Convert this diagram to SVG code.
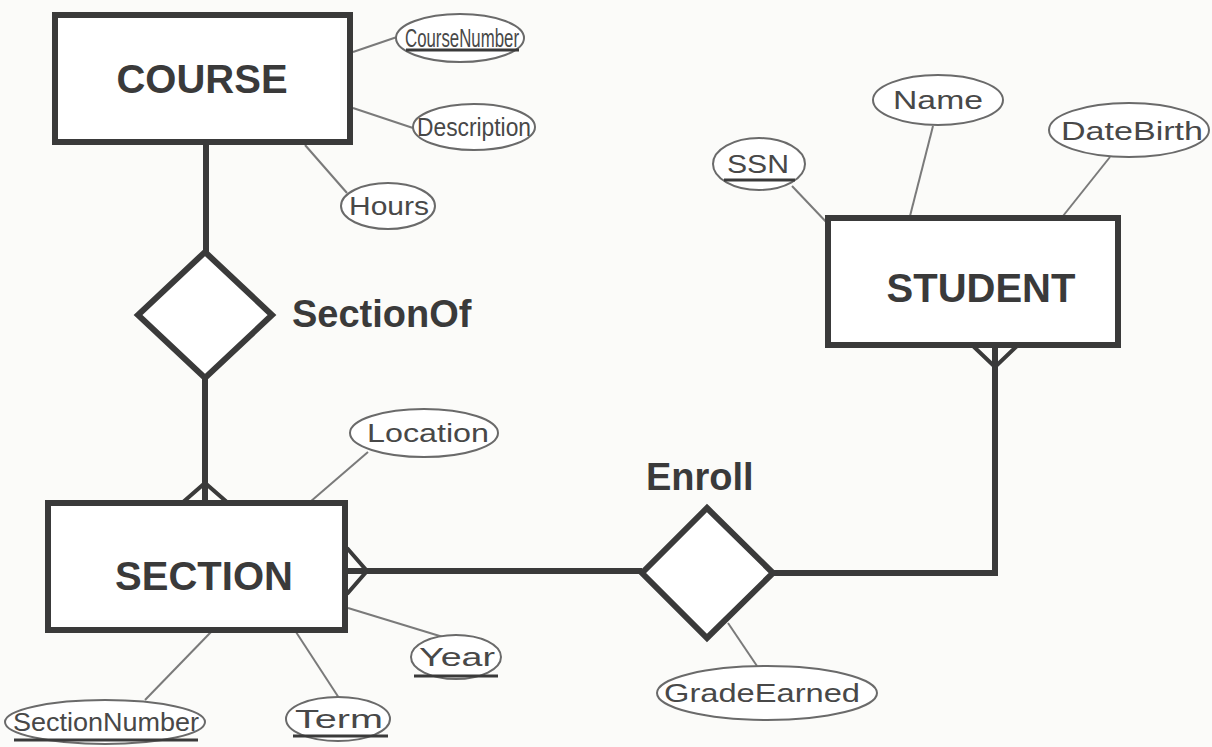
<svg xmlns="http://www.w3.org/2000/svg" width="1212" height="747" viewBox="0 0 1212 747">
  <style>
    .bg { fill: #fbfbf9; }
    .entity rect { fill: #ffffff; stroke: #3a3a3a; stroke-width: 6; }
    .entity text { font-family: "Liberation Sans", Arial, sans-serif; font-weight: bold; font-size: 40px; fill: #3a3a3a; text-anchor: middle; }
    .rel polygon { fill: #ffffff; stroke: #3a3a3a; stroke-width: 6; stroke-linejoin: miter; }
    .rel text { font-family: "Liberation Sans", Arial, sans-serif; font-weight: bold; font-size: 38px; fill: #3a3a3a; }
    .attr ellipse { fill: #ffffff; stroke: #6a6a6a; stroke-width: 2; }
    .attr text { font-family: "Liberation Sans", Arial, sans-serif; font-size: 26px; fill: #484848; text-anchor: middle; }
    .attr .key { stroke: #3a3a3a; stroke-width: 3; }
    .links .strong { fill: none; stroke: #3a3a3a; stroke-width: 6; stroke-linejoin: miter; }
    .links .foot { fill: none; stroke: #3a3a3a; stroke-width: 4; }
    .links .thin { fill: none; stroke: #7a7a7a; stroke-width: 2; }
  </style>

  <rect class="bg" x="0" y="0" width="1212" height="747"/>

  <!-- connectors: relationship lines, crow's feet, attribute links -->
  <g id="connectors" class="links">
    <line class="strong" x1="206" y1="142" x2="206" y2="252"/>
    <line class="strong" x1="205" y1="378" x2="205" y2="503"/>
    <line class="strong" x1="345" y1="571" x2="642" y2="571"/>
    <polyline class="strong" points="773,573 995,573 995,345"/>

    <!-- many-side crow's feet -->
    <polyline class="foot" points="182,503 205,483 228,503"/>
    <polyline class="foot" points="347,548 367,571 347,594"/>
    <polyline class="foot" points="972,345 995,367 1018,345"/>

    <!-- attribute links -->
    <line class="thin" x1="353" y1="52" x2="397" y2="37"/>
    <line class="thin" x1="353" y1="108" x2="413" y2="128"/>
    <line class="thin" x1="305" y1="145" x2="347" y2="193"/>
    <line class="thin" x1="792" y1="186" x2="830" y2="226"/>
    <line class="thin" x1="933" y1="126" x2="910" y2="216"/>
    <line class="thin" x1="1110" y1="157" x2="1063" y2="216"/>
    <line class="thin" x1="368" y1="452" x2="310" y2="502"/>
    <line class="thin" x1="348" y1="608" x2="443" y2="637"/>
    <line class="thin" x1="296" y1="632" x2="339" y2="698"/>
    <line class="thin" x1="211" y1="632" x2="145" y2="700"/>
    <line class="thin" x1="728" y1="623" x2="757" y2="666"/>
  </g>

  <!-- entities -->
  <g id="course" class="entity">
    <rect x="55" y="15" width="295" height="127"/>
    <text x="202" y="93">COURSE</text>
  </g>
  <g id="student" class="entity">
    <rect x="828" y="218" width="290" height="127"/>
    <text x="981" y="302">STUDENT</text>
  </g>
  <g id="section" class="entity">
    <rect x="48" y="503" width="297" height="127"/>
    <text x="204" y="590">SECTION</text>
  </g>

  <!-- relationships -->
  <g id="sectionof" class="rel">
    <polygon points="205,252 272,315 205,378 138,315"/>
    <text x="292" y="327">SectionOf</text>
  </g>
  <g id="enroll" class="rel">
    <polygon points="707,508 773,573 707,638 642,573"/>
    <text x="646" y="490">Enroll</text>
  </g>

  <!-- attributes -->
  <g id="attr-coursenumber" class="attr">
    <ellipse cx="460" cy="38" rx="64" ry="24"/>
    <text x="462" y="47" textLength="114" lengthAdjust="spacingAndGlyphs">CourseNumber</text>
    <line class="key" x1="406" y1="50" x2="519" y2="50"/>
  </g>
  <g id="attr-description" class="attr">
    <ellipse cx="474" cy="127" rx="61" ry="23"/>
    <text x="474" y="136" textLength="114" lengthAdjust="spacingAndGlyphs">Description</text>
  </g>
  <g id="attr-hours" class="attr">
    <ellipse cx="388" cy="206" rx="47" ry="23"/>
    <text x="389" y="215" textLength="80" lengthAdjust="spacingAndGlyphs">Hours</text>
  </g>
  <g id="attr-ssn" class="attr">
    <ellipse cx="759" cy="164" rx="46" ry="26"/>
    <text x="758" y="173" textLength="62" lengthAdjust="spacingAndGlyphs">SSN</text>
    <line class="key" x1="724" y1="180" x2="795" y2="180"/>
  </g>
  <g id="attr-name" class="attr">
    <ellipse cx="938" cy="100" rx="65" ry="25"/>
    <text x="938" y="109" textLength="90" lengthAdjust="spacingAndGlyphs">Name</text>
  </g>
  <g id="attr-datebirth" class="attr">
    <ellipse cx="1129" cy="130" rx="80" ry="27"/>
    <text x="1132" y="140" textLength="142" lengthAdjust="spacingAndGlyphs">DateBirth</text>
  </g>
  <g id="attr-location" class="attr">
    <ellipse cx="424" cy="433" rx="74" ry="24"/>
    <text x="428" y="442" textLength="122" lengthAdjust="spacingAndGlyphs">Location</text>
  </g>
  <g id="attr-year" class="attr">
    <ellipse cx="456" cy="657" rx="45" ry="22"/>
    <text x="457" y="666" textLength="76" lengthAdjust="spacingAndGlyphs">Year</text>
    <line class="key" x1="414" y1="676" x2="498" y2="676"/>
  </g>
  <g id="attr-term" class="attr">
    <ellipse cx="338" cy="719" rx="52" ry="22"/>
    <text x="339" y="728" textLength="88" lengthAdjust="spacingAndGlyphs">Term</text>
    <line class="key" x1="293" y1="736" x2="388" y2="736"/>
  </g>
  <g id="attr-sectionnumber" class="attr">
    <ellipse cx="105" cy="722" rx="100" ry="22"/>
    <text x="106" y="731" textLength="186" lengthAdjust="spacingAndGlyphs">SectionNumber</text>
    <line class="key" x1="14" y1="740" x2="198" y2="740"/>
  </g>
  <g id="attr-gradeearned" class="attr">
    <ellipse cx="767" cy="693" rx="110" ry="27"/>
    <text x="762" y="702" textLength="196" lengthAdjust="spacingAndGlyphs">GradeEarned</text>
  </g>
</svg>
